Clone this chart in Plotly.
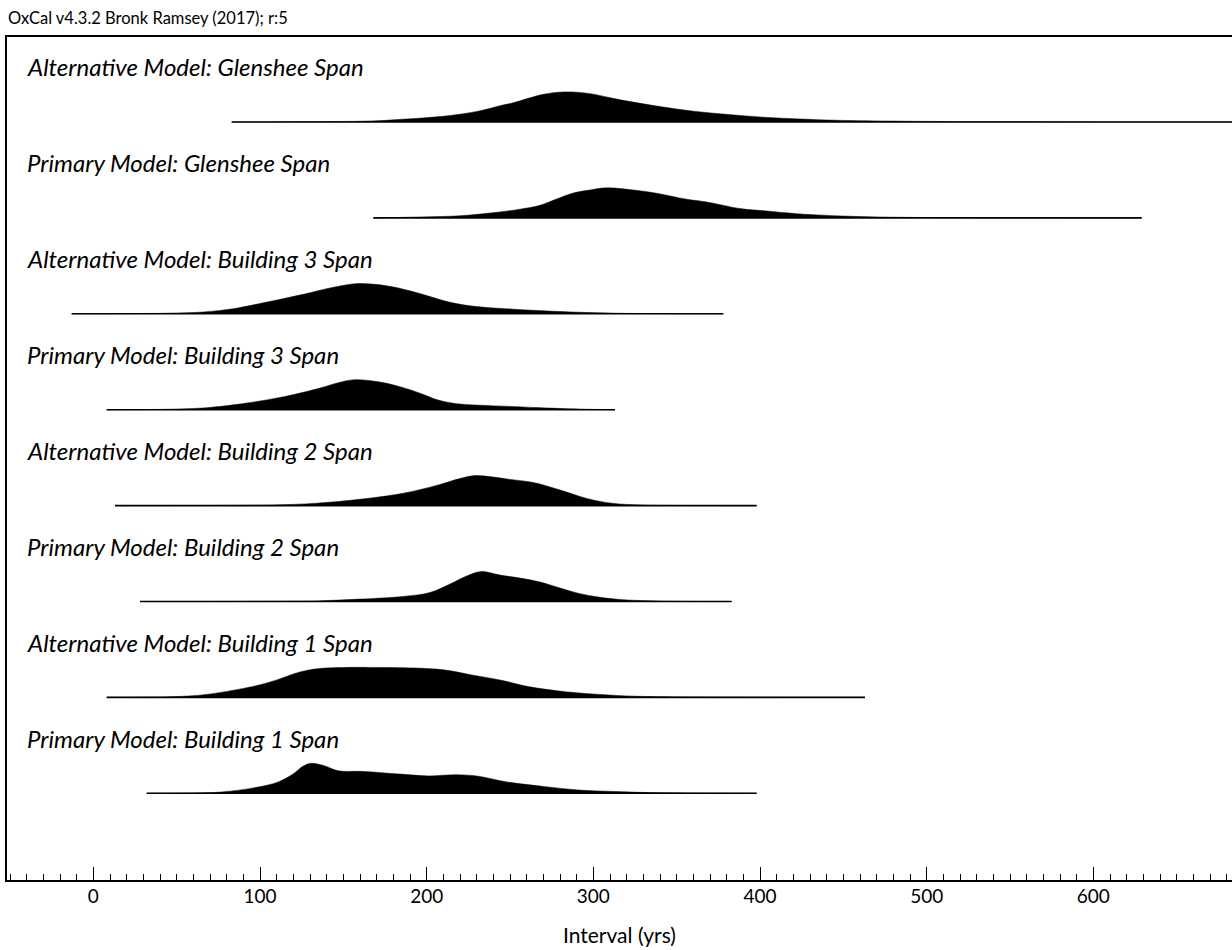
import plotly.graph_objects as go

# ---------------- data (years, relative probability %) ----------------
labels = [
    "Primary Model: Building 1 Span",
    "Alternative Model: Building 1 Span",
    "Primary Model: Building 2 Span",
    "Alternative Model: Building 2 Span",
    "Primary Model: Building 3 Span",
    "Alternative Model: Building 3 Span",
    "Primary Model: Glenshee Span",
    "Alternative Model: Glenshee Span",
]

prim_b1_yrs = [32, 56, 77, 98, 111, 120, 126, 131, 139, 147, 162, 184, 201, 218, 231, 248, 270, 291, 313, 334, 364, 398]
prim_b1_prob = [0, 0.7, 4.4, 20, 38, 65, 91, 100, 91, 75, 73, 64, 58, 62, 57, 38, 23, 11, 6, 2.4, 0.7, 0]

alt_b1_yrs = [8, 30, 47, 68, 90, 100, 111, 120, 128, 137, 150, 165, 193, 210, 227, 244, 261, 283, 304, 325, 364, 400, 463]
alt_b1_prob = [0, 0.5, 2, 10, 30, 42, 60, 78, 90, 97, 99.5, 100, 98, 92, 75, 58, 36, 19, 10, 4, 1, 0.3, 0]

prim_b2_yrs = [28, 80, 110, 134, 160, 186, 202, 214, 224, 233, 244, 256, 268, 280, 292, 304, 318, 340, 383]
prim_b2_prob = [0, 0.3, 1, 2, 8, 17, 30, 58, 85, 100, 88, 78, 65, 45, 26, 14, 6, 1.5, 0]

alt_b2_yrs = [13, 60, 90, 108, 134, 160, 186, 207, 220, 229, 240, 249, 264, 280, 296, 311, 329, 350, 398]
alt_b2_prob = [0, 0.3, 1, 2, 8, 21, 41, 69, 90, 100, 95, 88, 77, 52, 24, 8, 2, 0.4, 0]

prim_b3_yrs = [8, 40, 60, 71, 92, 115, 136, 147, 157, 172, 185, 196, 207, 218, 232, 250, 266, 292, 313]
prim_b3_prob = [0, 1, 4, 8, 22, 44, 72, 90, 100, 92, 75, 55, 32, 20, 15, 11, 7, 2, 0]

alt_b3_yrs = [-13, 20, 45, 66, 84, 105, 126, 142, 157, 169, 183, 198, 214, 230, 250, 270, 292, 318, 350, 378]
alt_b3_prob = [0, 0.5, 2, 6, 17, 40, 65, 86, 100, 98, 86, 64, 38, 24, 16, 10, 5, 1.5, 0.3, 0]

prim_gl_yrs = [168, 196, 220, 238, 256, 268, 278, 288, 298, 308, 324, 338, 356, 368, 388, 404, 422, 438, 460, 484, 520, 629]
prim_gl_prob = [0, 3, 7, 16, 29, 42, 63, 83, 93, 100, 93, 82, 62, 53, 31, 23, 14, 9, 4.3, 2, 0.7, 0]

alt_gl_yrs = [83, 124, 167, 188, 210, 231, 244, 252, 270, 282, 296, 317, 338, 360, 381, 402, 424, 446, 484, 532, 700]
alt_gl_prob = [0, 1, 3.4, 10, 19, 36, 54, 64, 92, 100, 96, 73, 53, 36, 25, 16, 10, 5.7, 2.7, 1, 0]

series_yrs = [prim_b1_yrs, alt_b1_yrs, prim_b2_yrs, alt_b2_yrs,
              prim_b3_yrs, alt_b3_yrs, prim_gl_yrs, alt_gl_yrs]
series_prob = [prim_b1_prob, alt_b1_prob, prim_b2_prob, alt_b2_prob,
               prim_b3_prob, alt_b3_prob, prim_gl_prob, alt_gl_prob]

header_text = "OxCal v4.3.2 Bronk Ramsey (2017); r:5"
axis_title = "Interval (yrs)"
tick_vals = [0, 100, 200, 300, 400, 500, 600]

# ---------------- figure ----------------
PEAK = 0.313        # peak height in row units
LABEL_OFF = 0.574   # label offset above baseline
LABEL_X = -41

fig = go.Figure()
for i, (xs, ps) in enumerate(zip(series_yrs, series_prob)):
    m = max(ps)
    ys = [i + PEAK * p / m for p in ps]
    fig.add_trace(go.Scatter(
        x=xs, y=ys, mode="lines", fill="toself", fillcolor="black",
        line=dict(color="black", width=0.5, shape="spline", smoothing=1.0),
        hoverinfo="skip", showlegend=False))
    fig.add_trace(go.Scatter(
        x=[xs[0], xs[-1]], y=[i, i], mode="lines",
        line=dict(color="black", width=1.6),
        hoverinfo="skip", showlegend=False))
    fig.add_annotation(
        x=LABEL_X, y=i + LABEL_OFF, text=labels[i], showarrow=False,
        xanchor="left", yanchor="middle",
        font=dict(family="Lato", size=24, color="black", style="italic"))

fig.add_annotation(
    xref="paper", yref="paper", x=0, y=1.0225, xshift=-1, text=header_text,
    showarrow=False, xanchor="left", yanchor="middle",
    font=dict(family="Lato", size=16.5, color="black"))

fig.add_annotation(
    xref="paper", yref="paper", x=0.5, y=-0.0652, text=axis_title,
    showarrow=False, xanchor="center", yanchor="middle",
    font=dict(family="Lato", size=21, color="black"))

fig.update_layout(
    width=1232, height=950,
    margin=dict(l=7, r=0, t=37, b=70),
    paper_bgcolor="white", plot_bgcolor="white",
    showlegend=False,
    font=dict(family="Lato", color="black"),
    xaxis=dict(
        range=[-51.8, 683.2], showgrid=False, zeroline=False,
        showline=True, linecolor="black", linewidth=1.6, mirror=True,
        tickmode="array", tickvals=tick_vals,
        ticks="inside", ticklen=13, tickwidth=1.2, tickcolor="black",
        ticklabelstandoff=-2,
        tickfont=dict(family="Lato", size=19, color="black"),
        minor=dict(dtick=10, tick0=0, ticks="inside", ticklen=6,
                   tickwidth=1, tickcolor="black"),
    ),
    yaxis=dict(
        range=[-0.904, 7.886], showgrid=False, zeroline=False,
        showline=True, linecolor="black", linewidth=1.6, mirror=False,
        showticklabels=False, ticks="",
    ),
)

fig.write_html("out.html", config={"displayModeBar": False},
               post_script="document.body.style.margin='0';")
